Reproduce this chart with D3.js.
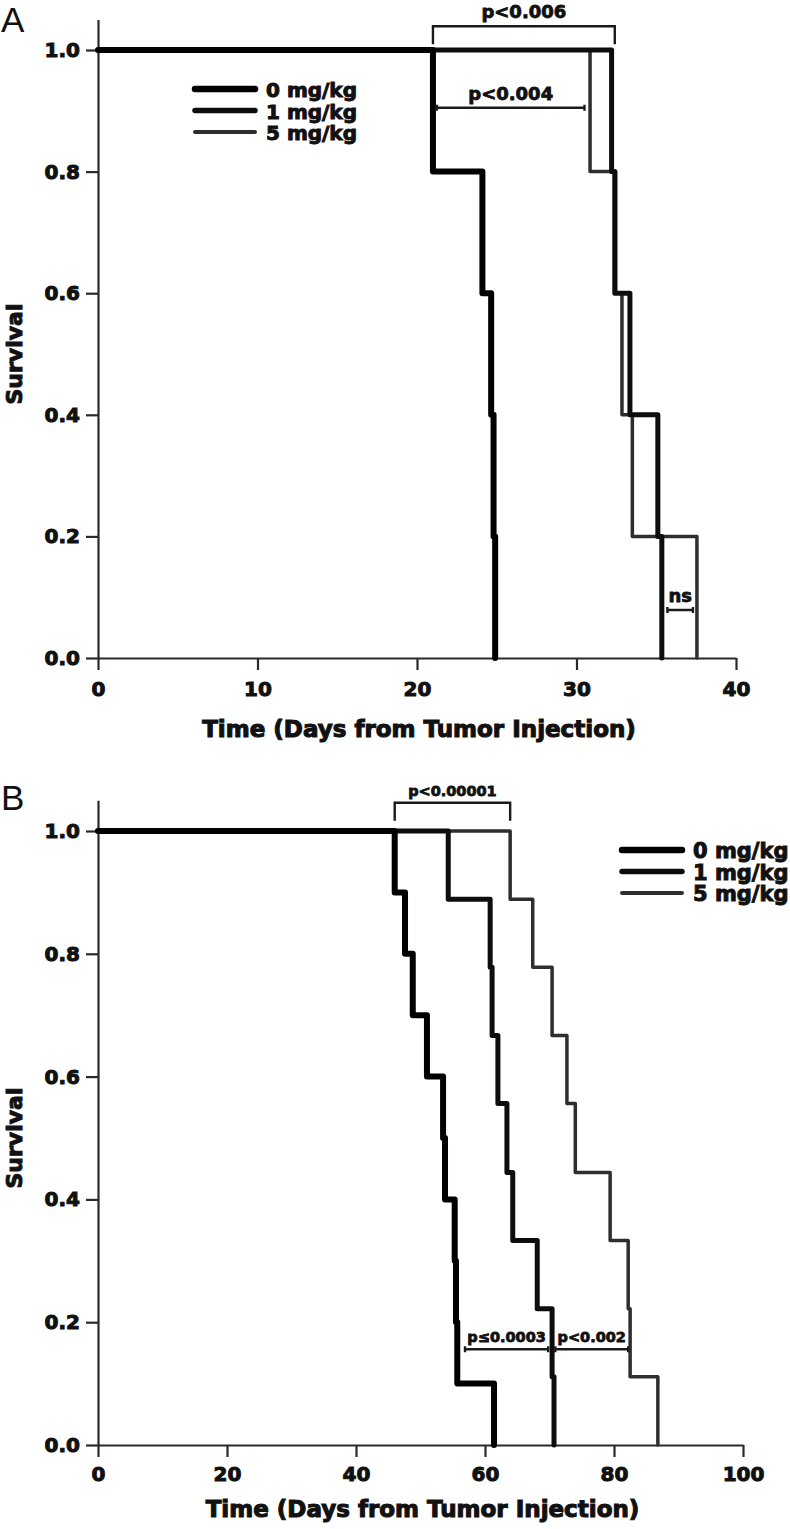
<!DOCTYPE html>
<html>
<head>
<meta charset="utf-8">
<script src="https://cdn.jsdelivr.net/npm/d3@7"></script>
<style>
  html, body { margin: 0; padding: 0; background: #fff; }
  svg { display: block; }
  .tick text { font-family: 'DejaVu Sans', sans-serif; font-weight: bold; font-size: 20px; fill: #111; }
  .axis path, .axis line { stroke: #2a2a2a; stroke-width: 2.2px; }
  .lbl { font-family: 'DejaVu Sans', sans-serif; font-weight: bold; fill: #111; }
  .panel-letter { font-family: 'Liberation Sans', Arial, sans-serif; font-size: 35px; fill: #111; }
</style>
</head>
<body>
<div id="chart"></div>
<script>
(function() {
    'use strict';

    // ---- data (days / survival fraction) ----
    var seriesNames = ['0 mg/kg', '1 mg/kg', '5 mg/kg'];

    // panel A
    var timesA0 = [0, 21.0, 24.1, 24.65, 24.8, 24.9];
    var survA0  = [1.0, 0.8, 0.6, 0.4, 0.2, 0.0];
    var timesA1 = [0, 32.2, 32.4, 33.35, 35.1, 35.35];
    var survA1  = [1.0, 0.8, 0.6, 0.4, 0.2, 0.0];
    var timesA5 = [0, 30.85, 32.45, 32.85, 33.5, 37.55];
    var survA5  = [1.0, 0.8, 0.6, 0.4, 0.2, 0.0];
    var xTicksA = [0, 10, 20, 30, 40];

    // panel B
    var timesB0 = [0, 46.0, 47.6, 48.8, 51.0, 53.5, 53.8, 55.3, 55.5, 55.7, 61.4];
    var survB0  = [1.0, 0.9, 0.8, 0.7, 0.6, 0.5, 0.4, 0.3, 0.2, 0.1, 0.0];
    var timesB1 = [0, 54.3, 60.8, 61.1, 62.0, 63.4, 64.3, 68.1, 70.4, 70.7];
    var survB1  = [1.0, 0.889, 0.778, 0.667, 0.556, 0.444, 0.333, 0.222, 0.111, 0.0];
    var timesB5 = [0, 63.9, 67.4, 70.4, 72.7, 74.0, 79.4, 82.2, 82.5, 86.8];
    var survB5  = [1.0, 0.889, 0.778, 0.667, 0.556, 0.444, 0.333, 0.222, 0.111, 0.0];
    var xTicksB = [0, 20, 40, 60, 80, 100];

    var yTicks = [0, 0.2, 0.4, 0.6, 0.8, 1.0];

    // p-value annotations: [label, day from, day to, survival level, kind]
    var notesA = [
        ['p<0.006', 21.0, 32.4, 1.039, 'bracket'],
        ['p<0.004', 21.25, 30.5, 0.905, 'span'],
        ['ns', 35.7, 37.3, 0.079, 'span']
    ];
    var notesB = [
        ['p<0.00001', 46.0, 63.9, 1.046, 'bracket'],
        ['p\u22640.0003', 56.9, 69.8, 0.156, 'span'],
        ['p<0.002', 70.9, 82.2, 0.156, 'span']
    ];

    var styles = [
        { color: '#000', width: 6 },
        { color: '#0d0d0d', width: 5 },
        { color: '#2e2e2e', width: 3.5 }
    ];

    var svg = d3.select('#chart')
    .append('svg')
      .attr('width', 790)
      .attr('height', 1529);

    function drawPanel(cfg) {
        var x = d3.scaleLinear().domain(cfg.xDomain).range(cfg.xRange);
        var y = d3.scaleLinear().domain([0, 1.05]).range(cfg.yRange);

        var g = svg.append('g');

        g.append('g')
          .attr('class', 'axis')
          .attr('transform', 'translate(0,' + y(0) + ')')
          .call(d3.axisBottom(x)
            .tickValues(cfg.xTicks)
            .tickFormat(d3.format('d'))
            .tickSize(12)
            .tickSizeOuter(0)
            .tickPadding(cfg.xPad));

        g.append('g')
          .attr('class', 'axis')
          .attr('transform', 'translate(' + x(0) + ',0)')
          .call(d3.axisLeft(y)
            .tickValues(yTicks)
            .tickFormat(d3.format('.1f'))
            .tickSize(12)
            .tickSizeOuter(0)
            .tickPadding(6));

        g.selectAll('.tick text').attr('stroke', '#111').attr('stroke-width', 1);

        var lineGen = d3.line()
          .curve(d3.curveStepAfter)
          .x(function(d) { return x(d[0]); })
          .y(function(d) { return y(d[1]); });

        // draw thinnest last so it stays visible
        [2, 1, 0].forEach(function(i) {
            var pts = d3.zip(cfg.times[i], cfg.surv[i]);
            g.append('path')
              .attr('d', lineGen(pts))
              .attr('fill', 'none')
              .attr('stroke', styles[i].color)
              .attr('stroke-width', styles[i].width)
              .attr('stroke-linejoin', 'round')
              .attr('stroke-linecap', 'round');
        });

        // legend
        var leg = g.append('g');
        seriesNames.forEach(function(name, i) {
            var ly = cfg.legend[1] + i * cfg.legendGap;
            leg.append('line')
              .attr('x1', cfg.legend[0]).attr('x2', cfg.legend[0] + 60)
              .attr('y1', ly).attr('y2', ly)
              .attr('stroke', styles[i].color)
              .attr('stroke-width', styles[i].width + 0.5)
              .attr('stroke-linecap', 'round');
            leg.append('text')
              .attr('class', 'lbl')
              .attr('x', cfg.legend[0] + 71)
              .attr('y', ly + 8)
              .attr('font-size', cfg.legendSize)
              .attr('stroke', '#111').attr('stroke-width', 1)
              .text(name);
        });

        // p-value marks
        cfg.notes.forEach(function(n) {
            var x1 = x(n[1]), x2 = x(n[2]), yy = y(n[3]);
            var p = d3.path();
            if (n[4] === 'bracket') {
                p.moveTo(x1, yy + 18); p.lineTo(x1, yy); p.lineTo(x2, yy); p.lineTo(x2, yy + 18);
            } else {
                p.moveTo(x1, yy - 3); p.lineTo(x1, yy + 3);
                p.moveTo(x1, yy); p.lineTo(x2, yy);
                p.moveTo(x2, yy - 3); p.lineTo(x2, yy + 3);
            }
            g.append('path')
              .attr('d', p.toString())
              .attr('fill', 'none')
              .attr('stroke', '#1a1a1a')
              .attr('stroke-width', 2.4);
            g.append('text')
              .attr('class', 'lbl')
              .attr('x', (x1 + x2) / 2)
              .attr('y', yy - cfg.noteGap)
              .attr('text-anchor', 'middle')
              .attr('font-size', cfg.noteSize)
              .attr('stroke', '#111').attr('stroke-width', 0.8)
              .text(n[0]);
        });

        // axis titles
        g.append('text')
          .attr('class', 'lbl')
          .attr('x', (cfg.xRange[0] + cfg.xRange[1]) / 2 + 2)
          .attr('y', y(0) + cfg.titleGap)
          .attr('text-anchor', 'middle')
          .attr('font-size', 23)
          .attr('stroke', '#111').attr('stroke-width', 1.1)
          .text('Time (Days from Tumor Injection)');

        g.append('text')
          .attr('class', 'lbl')
          .attr('transform', 'translate(22,' + (y(0) + y(1)) / 2 + ') rotate(-90)')
          .attr('text-anchor', 'middle')
          .attr('font-size', 22)
          .attr('stroke', '#111').attr('stroke-width', 1)
          .text('Survival');

        g.append('text')
          .attr('class', 'panel-letter')
          .attr('x', 1)
          .attr('y', y(1.05) + cfg.letterGap)
          .text(cfg.letter);
    }

    drawPanel({
        letter: 'A', letterGap: 12,
        xDomain: [0, 40], xRange: [98, 736], yRange: [658, 19.6],
        xTicks: xTicksA, xPad: 12, titleGap: 79,
        times: [timesA0, timesA1, timesA5], surv: [survA0, survA1, survA5],
        legend: [195, 89], legendGap: 21.5, legendSize: 20,
        notes: notesA, noteGap: 8, noteSize: 18
    });

    drawPanel({
        letter: 'B', letterGap: 10,
        xDomain: [0, 100], xRange: [98, 743], yRange: [1445, 800.3],
        xTicks: xTicksB, xPad: 10, titleGap: 72,
        times: [timesB0, timesB1, timesB5], surv: [survB0, survB1, survB5],
        legend: [622, 850], legendGap: 21.5, legendSize: 21,
        notes: notesB, noteGap: 7, noteSize: 14.5
    });

})();
</script>
</body>
</html>
